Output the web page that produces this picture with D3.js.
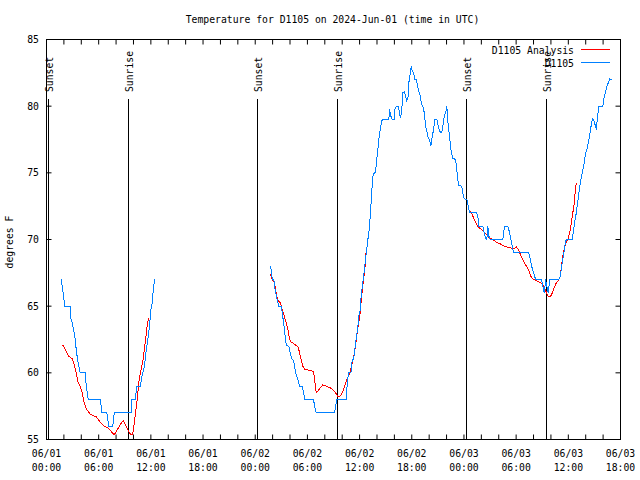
<!DOCTYPE html>
<html><head><meta charset="utf-8">
<script src="https://cdn.jsdelivr.net/npm/d3@7"></script>
<style>
body{margin:0;background:#fff}
svg{display:block}
text{font-family:"DejaVu Sans Mono",monospace;font-size:9.75px;fill:#000}
</style>
</head><body>
<svg id="c" width="640" height="480"></svg>
<script>
// ---------- data ----------
const chartTitle = "Temperature for D1105 on 2024-Jun-01 (time in UTC)";
const yAxisLabel = "degrees F";
const seriesNames = ["D1105 Analysis", "D1105"];
const seriesColors = ["#ff0000", "#0080ff"];
const yTickValues = [55, 60, 65, 70, 75, 80, 85];
const xStartUTC = Date.UTC(2024, 5, 1, 0, 0);
const xSpanHours = 66;
const sunEventNames = ["Sunset", "Sunrise", "Sunset", "Sunrise", "Sunset", "Sunrise"];
const sunEventHours = [0.20, 9.46, 24.30, 33.50, 48.34, 57.54];

// observations (hours since 06/01 00:00 UTC, deg F); null = gap
const obsPoints = [
 [1.69,67],[1.81,66.5],[1.96,65.75],[2.10,65],[2.73,65],[2.82,64],[2.96,63.75],[3.10,63.25],
 [3.25,62.75],[3.42,61.75],[3.57,61],[3.71,60.5],[3.88,60],[4.45,60],[4.57,59],[4.80,58],
 [6.18,58],[6.29,57.5],[6.36,57],[6.93,57],[7.05,56.5],[7.16,56],[7.62,56],[7.71,56.5],
 [7.79,57],[9.74,57],[9.75,58],[10.20,58],[10.29,58.5],[10.38,59],[10.84,59],[10.89,59.5],
 [11.07,60],[11.27,60.5],[11.39,61.25],[11.53,62],[11.70,62.75],[11.85,63.5],[12.00,64.75],
 [12.16,65.25],[12.31,66.5],[12.45,67],
 null,
 [25.73,68],[25.84,67.75],[25.88,67.5],[25.96,67],[26.14,67],[26.22,66.5],[26.34,66.1],
 [26.48,65.6],[26.71,65],[26.99,65],[27.11,64.5],[27.26,63.75],[27.40,63],[27.57,62.05],
 [27.86,62],[28.03,61.5],[28.18,61.1],[28.41,60.9],[28.64,60],[28.87,59.6],[29.10,59],
 [29.41,59],[29.56,58.5],[29.70,58],[30.71,58],[30.82,57.5],[31.02,57],[33.12,57],
 [33.24,57.5],[33.38,58],[34.47,58],[34.53,58.75],[34.65,59.6],[34.76,60],[35.00,60],
 [35.16,61],[35.31,61],[35.45,61.75],[35.62,62.6],[35.77,63.25],[35.91,64.25],[36.08,64.75],
 [36.14,65.5],[36.31,66.5],[36.46,67.25],[36.60,68],[36.77,69],[36.83,69.3],[37.00,70.25],
 [37.15,71],[37.29,72.5],[37.38,73.25],[37.46,74.25],[37.52,74.75],[37.69,75],[37.84,75],
 [37.92,75.75],[38.07,76.5],[38.21,77.5],[38.38,78.25],[38.53,78.9],[38.67,79],[39.36,79],
 [39.45,79.75],[39.59,79.25],[39.76,79],[39.99,79],[40.05,79.75],[40.22,80],[40.45,80],
 [40.60,79.5],[40.68,79.1],[40.83,79.5],[40.97,81],[41.14,81.1],[41.29,80.75],[41.43,80.4],
 [41.60,80.75],[41.66,81.75],[41.83,82.5],[41.94,83],[42.06,82.6],[42.21,82.5],[42.35,82],
 [42.52,82],[42.67,81.5],[42.81,81.1],[42.98,80.75],[43.13,80.1],[43.27,80],[43.44,79.5],
 [43.59,78.5],[43.73,78.1],[43.90,77.6],[44.05,77.5],[44.19,77],[44.36,77.75],[44.51,78.25],
 [44.65,79],[44.88,79],[45.05,78.5],[45.20,78.1],[45.43,78],[45.57,78.5],[45.74,79.25],
 [45.89,79.5],[46.03,80],[46.12,79],[46.20,78.5],[46.35,77.75],[46.49,76.75],[46.72,76.1],
 [47.04,76],[47.18,75.25],[47.27,74.6],[47.41,74.05],[47.73,74],[47.87,73.5],[48.04,73.05],
 [48.33,73],[48.50,72.5],[48.65,72],[49.48,72],[49.65,71.5],[49.71,71],[50.17,71],
 [50.34,70.5],[50.49,70.05],[50.63,70],[50.75,71],[50.86,70.25],[51.03,70],[52.47,70],
 [52.67,71],[53.05,71],[53.25,70.5],[53.39,70],[53.56,69.5],[53.71,69],[55.46,69],
 [55.63,68.5],[55.78,68],[56.01,67.5],[56.24,67],[56.93,67],[57.07,66.5],[57.24,66],
 [57.39,67],[57.53,66.5],[57.70,66],[57.85,67],[58.91,67],[59.08,67.25],[59.23,68],
 [59.37,68.5],[59.54,69.25],[59.69,69.9],[59.83,70],[60.46,70],[60.61,70.75],[60.75,71.4],
 [60.92,72],[61.07,72.75],[61.21,73.5],[61.38,74.25],[61.53,74.75],[61.67,75.25],[61.84,75.75],
 [61.99,76.5],[62.13,76.75],[62.25,77.1],[62.45,77.75],[62.59,78.4],[62.76,79.05],[62.91,79],
 [63.02,78.75],[63.22,78.25],[63.37,79.25],[63.51,80],[63.97,80],[64.14,80.75],[64.29,81.1],
 [64.43,81.5],[64.60,81.75],[64.75,82.05],[65.03,82]
];

// analysis (hours since 06/01 00:00 UTC, deg F); null = gap
const anaPoints = [
 [1.76,62.1],[1.96,62],[2.27,61.6],[2.56,61.25],[2.96,61.05],[3.19,60.6],[3.42,60],[3.65,59.25],
 [3.88,58.95],[4.11,58.5],[4.34,57.75],[4.57,57.3],[4.80,57.1],[5.03,56.9],[5.32,56.8],
 [5.72,56.7],[5.95,56.5],[6.29,56.2],[6.70,55.95],[7.05,55.9],[7.33,55.7],[7.56,55.5],
 [7.79,55.35],[8.02,55.6],[8.40,56],[8.71,56.35],[8.86,56.4],[9.09,56.1],[9.32,55.75],
 [9.55,55.5],[9.66,55.4],[9.89,55.4],[10.01,55.75],[10.12,56.4],[10.24,57.05],[10.35,57.6],
 [10.47,58.25],[10.58,59],[10.70,59.75],[10.81,60],[10.93,60.4],[11.04,60.75],[11.16,61.25],
 [11.27,61.9],[11.39,62.5],[11.50,63.1],[11.62,63.75],[11.73,64.1],
 null,
 [25.76,67.4],[25.96,67],[26.22,66.75],[26.42,65.9],[26.65,65.4],[26.88,65.25],[27.11,64.75],
 [27.34,64.25],[27.57,63.75],[27.80,63.1],[27.95,62.5],[28.14,62.3],[28.41,62.2],[28.72,62.05],
 [28.95,61.9],[29.10,61.5],[29.29,61],[29.47,60.5],[29.70,60.25],[30.25,60.2],[30.71,60.1],
 [30.82,59.5],[31.02,58.5],[31.40,58.8],[31.77,59.1],[32.17,59],[32.55,58.9],[32.92,58.75],
 [33.24,58.5],[33.50,58.25],[33.70,58.2],[33.93,58.4],[34.16,58.75],[34.39,59.25],[34.62,59.6],
 [34.85,59.9],[35.08,60.5],[35.31,61.1],[35.54,62.1],[35.77,63.25],[36.00,64.1],[36.23,65.75],
 [36.37,66.5],[36.60,67.75],[36.77,69.25],[36.83,69.3],
 null,
 [48.73,72.1],[48.88,72],[49.02,71.75],[49.25,71.4],[49.48,71.1],[49.71,70.9],[50.03,70.75],
 [50.26,70.6],[50.57,70.4],[50.95,70.1],[51.32,70],[51.72,69.8],[52.10,69.7],[52.47,69.55],
 [52.87,69.45],[53.44,69.35],[53.82,69.3],[54.02,69.45],[54.25,69.25],[54.48,68.9],[54.77,68.5],
 [55.09,68.1],[55.40,67.75],[55.69,67.25],[55.92,67.05],[56.32,66.9],[56.70,66.8],[57.01,66.7],
 [57.16,66.45],[57.30,66.3],[57.47,66.05],[57.70,65.7],[57.93,65.7],[58.16,66],[58.39,66.4],
 [58.62,66.75],[58.85,66.9],[59.08,67.25],[59.23,68.1],[59.37,68.75],[59.60,69.5],[59.83,69.9],
 [60.00,70.1],[60.23,70.75],[60.46,71.75],[60.69,72.75],[60.84,74],[60.92,74.2],[60.98,74.1]
];

// ---------- drawing ----------
const toDate = h => new Date(xStartUTC + h * 3600000);
const L = 46, R = 620, T = 39, B = 439;
const x = d3.scaleUtc().domain([toDate(0), toDate(xSpanHours)]).range([L, R]);
const y = d3.scaleLinear().domain([55, 85]).range([B, T]);
const svg = d3.select("#c");

svg.append("rect").attr("width", 640).attr("height", 480).attr("fill", "#fff");

// title
svg.append("text").attr("x", 332.5).attr("y", 23).attr("text-anchor", "middle").text(chartTitle);

// axes ticks (inward, mirrored)
const xTicks = d3.utcHour.every(2).range(toDate(0), toDate(xSpanHours + 0.01));
const gb = svg.append("g").attr("transform", `translate(0,${B + 0.5})`)
  .call(d3.axisBottom(x).tickValues(xTicks).tickSizeInner(-5).tickSizeOuter(0).tickFormat(""));
const gt = svg.append("g").attr("transform", `translate(0,${T + 0.5})`)
  .call(d3.axisTop(x).tickValues(xTicks).tickSizeInner(-5).tickSizeOuter(0).tickFormat(""));
const gl = svg.append("g").attr("transform", `translate(${L + 0.5},0)`)
  .call(d3.axisLeft(y).tickValues(yTickValues).tickSizeInner(-5).tickSizeOuter(0).tickFormat(""));
const gr = svg.append("g").attr("transform", `translate(${R + 0.5},0)`)
  .call(d3.axisRight(y).tickValues(yTickValues).tickSizeInner(-5).tickSizeOuter(0).tickFormat(""));
[gb, gt, gl, gr].forEach(g => {
  g.select(".domain").remove();
  g.selectAll(".tick line").attr("stroke", "#000").attr("stroke-width", 1);
});

// x tick labels (every 6 h, two lines)
const fmtDay = d3.utcFormat("%m/%d"), fmtTime = d3.utcFormat("%H:%M");
const xLabelTicks = d3.utcHour.every(6).range(toDate(0), toDate(xSpanHours + 0.01));
const xl = svg.append("g").selectAll("g").data(xLabelTicks).join("g")
  .attr("transform", d => `translate(${x(d) + 0.5},0)`);
xl.append("text").attr("y", 457).attr("text-anchor", "middle").text(d => fmtDay(d));
xl.append("text").attr("y", 471).attr("text-anchor", "middle").text(d => fmtTime(d));

// y tick labels
svg.append("g").selectAll("text").data(yTickValues).join("text")
  .attr("x", 39).attr("y", d => y(d) + 4).attr("text-anchor", "end").text(d => d);

// y axis title
svg.append("text").attr("transform", "translate(13,242) rotate(-90)")
  .attr("text-anchor", "middle").text(yAxisLabel);

// sunrise / sunset markers
const sun = svg.append("g").selectAll("g").data(sunEventHours).join("g")
  .attr("transform", d => `translate(${Math.round(x(toDate(d))) + 0.5},0)`);
sun.append("line").attr("y1", 99).attr("y2", B + 0.5).attr("stroke", "#000").attr("stroke-width", 1);
sun.append("text").attr("transform", "translate(4.5,92) rotate(-90)")
  .attr("text-anchor", "start").text((d, i) => sunEventNames[i]);

// clip
svg.append("clipPath").attr("id", "clip").append("rect")
  .attr("x", L).attr("y", T).attr("width", R - L + 1).attr("height", B - T + 1);

const line = d3.line().defined(d => d !== null)
  .x(d => x(toDate(d[0])) + 0.5).y(d => y(d[1]) + 0.5);

svg.append("path").datum(anaPoints).attr("clip-path", "url(#clip)")
  .attr("fill", "none").attr("stroke", seriesColors[0]).attr("stroke-width", 1)
  .attr("shape-rendering", "crispEdges").attr("d", line);
svg.append("path").datum(obsPoints).attr("clip-path", "url(#clip)")
  .attr("fill", "none").attr("stroke", seriesColors[1]).attr("stroke-width", 1)
  .attr("shape-rendering", "crispEdges").attr("d", line);

// frame
svg.append("rect").attr("x", L + 0.5).attr("y", T + 0.5).attr("width", R - L).attr("height", B - T)
  .attr("fill", "none").attr("stroke", "#000").attr("stroke-width", 1);

// legend
const leg = svg.append("g").selectAll("g").data(seriesNames).join("g")
  .attr("transform", (d, i) => `translate(0,${49.5 + i * 13})`);
leg.append("text").attr("x", 574).attr("y", 4).attr("text-anchor", "end").text(d => d);
leg.append("line").attr("x1", 581).attr("x2", 610).attr("y1", 0).attr("y2", 0)
  .attr("stroke", (d, i) => seriesColors[i]).attr("stroke-width", 1);
</script>
</body></html>
